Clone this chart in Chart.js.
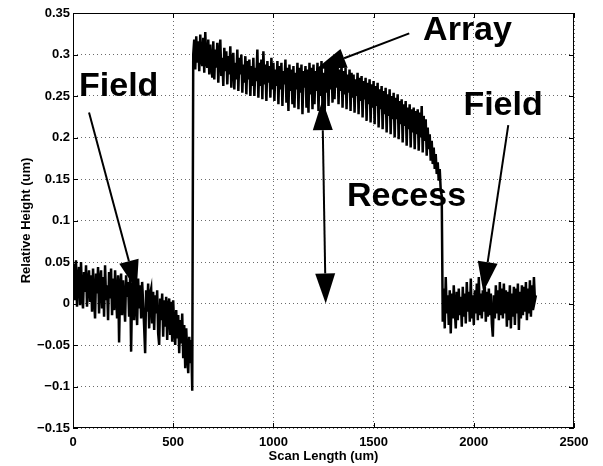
<!DOCTYPE html>
<html>
<head>
<meta charset="utf-8">
<title>Scan profile</title>
<script src="https://cdn.jsdelivr.net/npm/chart.js@4.4.1/dist/chart.umd.min.js"></script>
<style>
  html, body { margin: 0; padding: 0; background: #fff; }
  canvas { display: block; }
</style>
</head>
<body>
<canvas id="profileChart" width="603" height="466"></canvas>
<script>
/* ================================================================
   Profile data — heights in um, one sample every SCAN_STEP um
   ================================================================ */
const SCAN_STEP = 5;

// Left field, 0 – 595 um
const FIELD_LEFT_START = 0;
const FIELD_LEFT = [
   0.020,  0.048,  0.004,  0.052, -0.004,  0.030,  0.044, -0.002,  0.050,  0.010,
  -0.006,  0.038,  0.014,  0.046, -0.004,  0.026,  0.040,  0.002,  0.034, -0.010,
   0.042,  0.008, -0.018,  0.036,  0.012,  0.044, -0.012,  0.028,  0.040, -0.006,
   0.032, -0.016,  0.046,  0.004,  0.022, -0.020,  0.038,  0.006,  0.042, -0.014,
   0.030, -0.008,  0.040,  0.010, -0.018,  0.034, -0.047,  0.020,  0.036, -0.014,
   0.028,  0.002, -0.022,  0.034,  0.008,  0.026, -0.016,  0.032, -0.058,  0.018,
   0.028, -0.020,  0.024,  0.004, -0.026,  0.030, -0.006,  0.022, -0.018,  0.026,
   0.000, -0.028, -0.060,  0.016, -0.010,  0.024, -0.030,  0.012,  0.018, -0.024,
   0.014, -0.032,  0.010, -0.012,  0.016, -0.036, -0.050,  0.006, -0.020,  0.012,
  -0.040,  0.004, -0.028,  0.008, -0.044, -0.004,  0.006, -0.038,  0.002, -0.046,
   0.004, -0.030, -0.050, -0.008, -0.042, -0.014, -0.060, -0.020, -0.048, -0.012,
  -0.066, -0.026, -0.078, -0.030, -0.060, -0.084, -0.040, -0.072, -0.044, -0.105,
];

// Array, 600 – 1840 um
const ARRAY_START = 600;
const ARRAY = [
  0.300, 0.318, 0.282, 0.322, 0.290, 0.316, 0.280, 0.324, 0.296, 0.286,
  0.320, 0.278, 0.327, 0.292, 0.284, 0.318, 0.276, 0.312, 0.288, 0.272,
  0.316, 0.270, 0.306, 0.284, 0.314, 0.266, 0.300, 0.318, 0.274, 0.296,
  0.262, 0.308, 0.280, 0.304, 0.264, 0.298, 0.276, 0.310, 0.260, 0.294,
  0.302, 0.258, 0.290, 0.270, 0.306, 0.256, 0.296, 0.276, 0.300, 0.254,
  0.288, 0.266, 0.298, 0.252, 0.292, 0.270, 0.294, 0.250, 0.286, 0.262,
  0.296, 0.250, 0.284, 0.268, 0.306, 0.248, 0.290, 0.262, 0.294, 0.246,
  0.304, 0.264, 0.288, 0.244, 0.292, 0.266, 0.286, 0.248, 0.296, 0.258,
  0.290, 0.244, 0.282, 0.262, 0.292, 0.240, 0.286, 0.258, 0.290, 0.238,
  0.280, 0.264, 0.294, 0.242, 0.284, 0.232, 0.288, 0.256, 0.282, 0.240,
  0.286, 0.236, 0.278, 0.258, 0.290, 0.234, 0.284, 0.254, 0.288, 0.228,
  0.280, 0.260, 0.286, 0.236, 0.282, 0.230, 0.290, 0.252, 0.284, 0.234,
  0.288, 0.240, 0.280, 0.256, 0.290, 0.232, 0.284, 0.250, 0.292, 0.236,
  0.278, 0.222, 0.286, 0.254, 0.290, 0.238, 0.294, 0.258, 0.288, 0.242,
  0.296, 0.246, 0.286, 0.260, 0.290, 0.240, 0.282, 0.256, 0.288, 0.236,
  0.280, 0.252, 0.284, 0.234, 0.276, 0.254, 0.282, 0.232, 0.278, 0.248,
  0.276, 0.230, 0.270, 0.250, 0.278, 0.228, 0.272, 0.244, 0.274, 0.224,
  0.268, 0.246, 0.272, 0.220, 0.266, 0.240, 0.270, 0.218, 0.264, 0.236,
  0.268, 0.216, 0.262, 0.238, 0.266, 0.212, 0.258, 0.234, 0.262, 0.210,
  0.256, 0.228, 0.260, 0.206, 0.252, 0.226, 0.258, 0.204, 0.250, 0.222,
  0.254, 0.200, 0.248, 0.222, 0.252, 0.198, 0.244, 0.216, 0.246, 0.194,
  0.240, 0.214, 0.244, 0.190, 0.236, 0.210, 0.240, 0.188, 0.234, 0.206,
  0.236, 0.186, 0.232, 0.204, 0.234, 0.184, 0.230, 0.200, 0.238, 0.182,
  0.226, 0.196, 0.222, 0.178, 0.212, 0.186, 0.204, 0.172, 0.196, 0.168,
  0.188, 0.162, 0.180, 0.156, 0.170, 0.148, 0.162, 0.136, 0.130,
];

// Right field, 1845 – 2310 um
const FIELD_RIGHT_START = 1845;
const FIELD_RIGHT = [
  -0.022,  0.018, -0.030,  0.032, -0.012,  0.010, -0.026,  0.016, -0.036,  0.012,
  -0.018,  0.022, -0.008, -0.030,  0.014, -0.020,  0.018, -0.014,  0.008, -0.028,
   0.020, -0.016,  0.012, -0.024,  0.026, -0.010,  0.014, -0.022,  0.030, -0.018,
   0.010, -0.026,  0.016, -0.012,  0.024, -0.020,  0.032, -0.014,  0.012, -0.018,
   0.016, -0.010,  0.020, -0.022,  0.014, -0.016,  0.018, -0.014,  0.012, -0.024,
  -0.040,  0.010, -0.018,  0.022, -0.012,  0.016, -0.020,  0.026, -0.014,  0.018,
  -0.018,  0.024, -0.012,  0.016, -0.028,  0.014, -0.020,  0.022, -0.030,  0.012,
  -0.016,  0.020, -0.026,  0.018, -0.012,  0.024, -0.032,  0.014, -0.018,  0.022,
  -0.014,  0.020, -0.010,  0.026, -0.020,  0.018, -0.012,  0.028, -0.016,  0.022,
  -0.008,  0.032,  0.004,  0.010,
];

// Axes
const X_TICKS = [0, 500, 1000, 1500, 2000, 2500];
const Y_TICKS = [-0.15, -0.1, -0.05, 0, 0.05, 0.1, 0.15, 0.2, 0.25, 0.3, 0.35];

// Annotations (data coordinates)
const LABELS = [
  { text: 'Field',  x: 30,   y: 0.250 },
  { text: 'Array',  x: 1747, y: 0.317 },
  { text: 'Recess', x: 1367, y: 0.117 },
  { text: 'Field',  x: 1948, y: 0.227 },
];
const ARROWS = [
  { from: [80, 0.230],    to: [318, 0.016] },
  { from: [1678, 0.3255], to: [1213, 0.2825] },
  { from: [1261, 0.0],    to: [1244, 0.245], both: true },
  { from: [2172, 0.215],  to: [2047, 0.014] },
];
/* ================================================================ */

const FONT = "'Liberation Sans', Arial, Helvetica, sans-serif";

function toPoints(start, values) {
  return values.map((v, i) => ({ x: start + i * SCAN_STEP, y: v }));
}

const profile = [
  ...toPoints(FIELD_LEFT_START, FIELD_LEFT),
  ...toPoints(ARRAY_START, ARRAY),
  ...toPoints(FIELD_RIGHT_START, FIELD_RIGHT),
];

function fmtTick(v) {
  const s = String(Number(v.toFixed(2)));
  return s.replace('-', '\u2212');
}

// ── Arrow helper ─────────────────────────────────────────────────
function arrowHead(ctx, tx, ty, ang, len, half) {
  const bx = tx - Math.cos(ang) * len;
  const by = ty - Math.sin(ang) * len;
  ctx.beginPath();
  ctx.moveTo(tx, ty);
  ctx.lineTo(bx + Math.sin(ang) * half, by - Math.cos(ang) * half);
  ctx.lineTo(bx - Math.sin(ang) * half, by + Math.cos(ang) * half);
  ctx.closePath();
  ctx.fill();
  return [bx, by];
}

function drawArrow(ctx, x1, y1, x2, y2, both) {
  const len = 30, half = 10;
  const ang = Math.atan2(y2 - y1, x2 - x1);
  const end = arrowHead(ctx, x2, y2, ang, len, half);
  let start = [x1, y1];
  if (both) start = arrowHead(ctx, x1, y1, ang + Math.PI, len, half);
  ctx.beginPath();
  ctx.moveTo(start[0], start[1]);
  ctx.lineTo(end[0], end[1]);
  ctx.stroke();
}

// ── Annotation + box plugin ──────────────────────────────────────
const matlabLook = {
  id: 'matlabLook',
  afterDatasetsDraw(chart) {
    const { ctx, scales: { x, y } } = chart;
    ctx.save();
    ctx.fillStyle = '#000';
    ctx.strokeStyle = '#000';
    ctx.lineWidth = 2;
    ARROWS.forEach(a => {
      drawArrow(ctx,
        x.getPixelForValue(a.from[0]), y.getPixelForValue(a.from[1]),
        x.getPixelForValue(a.to[0]),   y.getPixelForValue(a.to[1]),
        a.both);
    });
    ctx.font = `bold 34px ${FONT}`;
    ctx.textBaseline = 'alphabetic';
    ctx.textAlign = 'left';
    LABELS.forEach(l => {
      ctx.fillText(l.text, x.getPixelForValue(l.x), y.getPixelForValue(l.y));
    });
    ctx.restore();
  },
  afterDraw(chart) {
    const { ctx, chartArea: a, scales: { x, y } } = chart;
    ctx.save();
    ctx.strokeStyle = '#000';
    ctx.lineWidth = 1;
    ctx.strokeRect(a.left + 0.5, a.top + 0.5, a.right - a.left - 1, a.bottom - a.top - 1);
    ctx.beginPath();
    const tl = 5;
    X_TICKS.forEach(v => {
      const px = Math.round(x.getPixelForValue(v)) + 0.5;
      ctx.moveTo(px, a.bottom); ctx.lineTo(px, a.bottom - tl);
      ctx.moveTo(px, a.top);    ctx.lineTo(px, a.top + tl);
    });
    Y_TICKS.forEach(v => {
      const py = Math.round(y.getPixelForValue(v)) + 0.5;
      ctx.moveTo(a.left, py);  ctx.lineTo(a.left + tl, py);
      ctx.moveTo(a.right, py); ctx.lineTo(a.right - tl, py);
    });
    ctx.stroke();
    ctx.restore();
  },
};

const gridStyle = {
  color: '#6b6b6b',
  lineWidth: 1,
  drawTicks: false,
};

new Chart(document.getElementById('profileChart'), {
  type: 'line',
  data: {
    datasets: [{
      data: profile,
      borderColor: '#000',
      borderWidth: 2.5,
      pointRadius: 0,
      tension: 0,
      fill: false,
    }],
  },
  options: {
    responsive: false,
    animation: false,
    devicePixelRatio: 1,
    layout: { padding: { top: 13, right: 29, left: 0, bottom: 0 } },
    plugins: { legend: { display: false }, tooltip: { enabled: false } },
    scales: {
      x: {
        type: 'linear',
        min: 0,
        max: 2500,
        afterBuildTicks: s => { s.ticks = X_TICKS.map(v => ({ value: v })); },
        afterFit: s => { s.height = 38; },
        ticks: {
          color: '#000',
          padding: 7,
          maxRotation: 0,
          font: { family: FONT, size: 13, weight: 'bold' },
          callback: v => String(v),
        },
        grid: gridStyle,
        border: { display: false, dash: [1, 3] },
        title: {
          display: true,
          text: 'Scan Length (um)',
          color: '#000',
          font: { family: FONT, size: 13, weight: 'bold' },
          padding: { top: 0, bottom: 2 },
        },
      },
      y: {
        type: 'linear',
        min: -0.15,
        max: 0.35,
        afterBuildTicks: s => { s.ticks = Y_TICKS.map(v => ({ value: v })); },
        afterFit: s => { s.width = 73; },
        ticks: {
          color: '#000',
          padding: 3,
          font: { family: FONT, size: 13, weight: 'bold' },
          callback: v => fmtTick(v),
        },
        grid: gridStyle,
        border: { display: false, dash: [1, 3] },
        title: {
          display: true,
          text: 'Relative Height (um)',
          color: '#000',
          font: { family: FONT, size: 13, weight: 'bold' },
          padding: { top: 19, bottom: 0 },
        },
      },
    },
  },
  plugins: [matlabLook],
});
</script>
</body>
</html>
